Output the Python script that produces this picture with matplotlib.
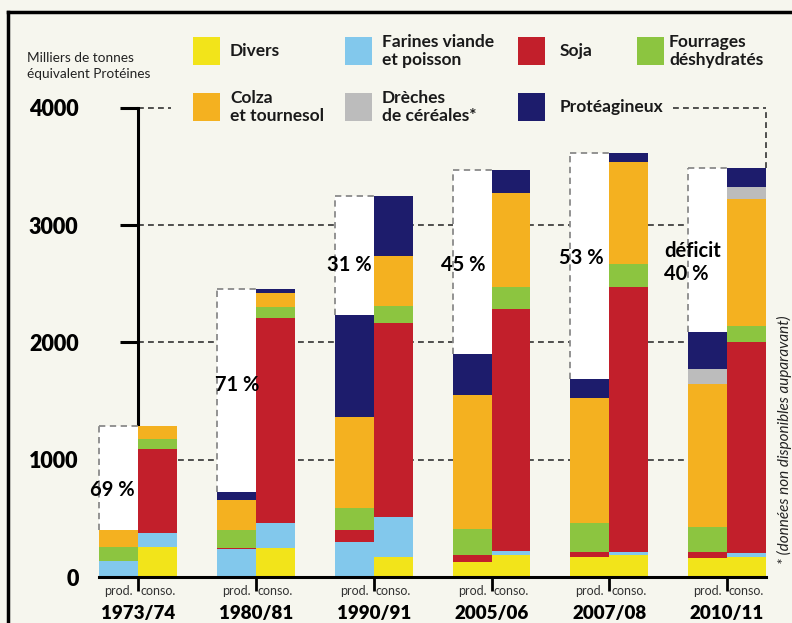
import matplotlib
matplotlib.use("Agg")
import matplotlib.pyplot as plt
from matplotlib.patches import Rectangle
from matplotlib.lines import Line2D
import numpy as np

plt.rcParams['font.family'] = ['Lato', 'DejaVu Sans']

# campagnes
years = ["1973/74", "1980/81", "1990/91", "2005/06", "2007/08", "2010/11"]

# milliers de tonnes equivalent proteines, lus sur le graphique
# ordre d'empilement: divers, farines, soja, fourrages, colza, dreches, proteagineux
prod_divers = [0, 0, 0, 130, 168, 159]
prod_farines = [139, 236, 301, 0, 0, 0]
prod_soja = [0, 8, 100, 57, 43, 51]
prod_fourrages = [119, 159, 185, 219, 247, 213]
prod_colza = [142, 253, 781, 1145, 1066, 1219]
prod_dreches = [0, 0, 0, 0, 0, 128]
prod_proteag = [0, 66, 867, 350, 162, 315]

conso_divers = [258, 245, 173, 188, 188, 168]
conso_farines = [119, 219, 335, 37, 23, 34]
conso_soja = [713, 1742, 1660, 2058, 2265, 1805]
conso_fourrages = [83, 94, 142, 193, 193, 136]
conso_colza = [114, 119, 426, 796, 872, 1077]
conso_dreches = [0, 0, 0, 0, 0, 108]
conso_proteag = [0, 34, 512, 199, 71, 156]

deficit_labels = ["69 %", "71 %", "31 %", "45 %", "53 %", "déficit\n40 %"]
deficit_label_y = [742, 1637, 2660, 2660, 2720, 2680]
deficit_label_dx = [-0.22, -0.16, -0.21, -0.24, -0.24, -0.29]

legend_names = ["Divers", "Farines viande\net poisson", "Soja", "Fourrages\ndéshydratés",
                "Colza\net tournesol", "Drèches\nde céréales*", "Protéagineux"]
colors = ["#f2e41a", "#82c8ec", "#c21f2b", "#8cc540", "#f4b120", "#bcbcbc", "#1d1c6c"]

prod = [prod_divers, prod_farines, prod_soja, prod_fourrages, prod_colza, prod_dreches, prod_proteag]
conso = [conso_divers, conso_farines, conso_soja, conso_fourrages, conso_colza, conso_dreches, conso_proteag]

bg = "#f6f6ee"
W, H = 792, 623
fig = plt.figure(figsize=(W / 100, H / 100), dpi=100, facecolor=bg)
ax = fig.add_axes([90 / W, (H - 577) / H, 690 / W, 504.4 / H])
ax.set_facecolor("none")
ax.set_xlim(-0.41, 5.45)
ax.set_ylim(0, 4300)

x = np.arange(len(years))
w = 0.331
prod_tot = np.sum(prod, axis=0)
conso_tot = np.sum(conso, axis=0)

# stacked bars
pb = np.zeros(len(years))
cb = np.zeros(len(years))
for k in range(len(prod)):
    ax.bar(x - w / 2, prod[k], w, bottom=pb, color=colors[k], linewidth=0, zorder=2)
    ax.bar(x + w / 2, conso[k], w, bottom=cb, color=colors[k], linewidth=0, zorder=2)
    pb += prod[k]
    cb += conso[k]

# deficit boxes
ax.bar(x - w / 2, conso_tot - prod_tot, w, bottom=prod_tot, color="white", linewidth=0, zorder=1)
dash = (0, (3.5, 2.5))
ax.vlines(x - w, prod_tot, conso_tot, colors="#8a8a8a", linestyles=dash, linewidth=1.3, zorder=3)
ax.hlines(conso_tot, x - w, x, colors="#8a8a8a", linestyles=dash, linewidth=1.3, zorder=3)

for i in range(len(years)):
    ax.text(x[i] + deficit_label_dx[i], deficit_label_y[i], deficit_labels[i], ha="center",
            va="center", fontsize=14.5, fontweight="bold", multialignment="left",
            linespacing=1.15, zorder=4)

# dashed grid
ax.hlines([1000, 2000, 3000], 0, x[-1] + w, colors="#333333", linestyles=dash, linewidth=1.2, zorder=0.4)
ax.hlines(4000, 0, 0.28, colors="#333333", linestyles=dash, linewidth=1.2, zorder=0.4)
ax.hlines(4000, 4.54, x[-1] + w, colors="#333333", linestyles=dash, linewidth=1.2, zorder=0.4)
ax.vlines(x[-1] + w, conso_tot[-1], 4000, colors="#333333", linestyles=dash, linewidth=1.2, zorder=0.4)

# axes
ax.set_axisbelow(True)
for s in ["top", "right"]:
    ax.spines[s].set_visible(False)
ax.spines["left"].set_position(("data", 0))
ax.spines["left"].set_bounds(0, 4000)
ax.spines["left"].set_linewidth(2.2)
ax.spines["left"].set_zorder(0.6)
ax.spines["bottom"].set_bounds(-w, x[-1] + w)
ax.spines["bottom"].set_linewidth(2.2)
ax.spines["bottom"].set_zorder(5)

ax.set_yticks([0, 1000, 2000, 3000, 4000])
ax.tick_params(axis="y", length=13, width=2.2, pad=30, labelsize=15.5)
for lbl in ax.get_yticklabels():
    lbl.set_fontweight("heavy")

ax.set_xticks(x)
ax.set_xticklabels(years, fontsize=13.5, fontweight="heavy")
ax.set_xticks(np.concatenate([x - w / 2, x + w / 2]), minor=True)
ax.set_xticklabels(["prod."] * len(years) + ["conso."] * len(years), minor=True)
ax.tick_params(axis="x", which="major", length=10, width=2, pad=10)
ax.tick_params(axis="x", which="minor", length=0, pad=6, labelsize=9, labelcolor="#333333")

# legend (manual grid)
col_sw = [193, 345, 518, 637]
col_tx = [230, 382, 560, 669]
row_c = [51, 107]
for n, name in enumerate(legend_names):
    r, c = divmod(n, 4)
    fig.add_artist(Rectangle((col_sw[c] / W, 1 - (row_c[r] + 14) / H), 27 / W, 28 / H,
                             transform=fig.transFigure, color=colors[n], linewidth=0))
    fig.text(col_tx[c] / W, 1 - row_c[r] / H, name, ha="left", va="center", fontsize=12.5,
             fontweight="bold", linespacing=1.15, color="#1a1a1a")

fig.text(27 / W, 1 - 66 / H, "Milliers de tonnes\néquivalent Protéines", ha="left", va="center",
         fontsize=9.8, linespacing=1.35, color="#222222")

fig.text(784 / W, 1 - 440 / H, "* (données non disponibles auparavant)", rotation=90,
         ha="center", va="center", fontsize=11, style="italic", color="#222222")

# frame
fig.add_artist(Line2D([8 / W, 8 / W], [0, 1 - 12 / H], transform=fig.transFigure, color="black", linewidth=2.5))
fig.add_artist(Line2D([8 / W, 1], [1 - 12 / H, 1 - 12 / H], transform=fig.transFigure, color="black", linewidth=2.5))

fig.savefig("out.png", dpi=100, facecolor=bg)
